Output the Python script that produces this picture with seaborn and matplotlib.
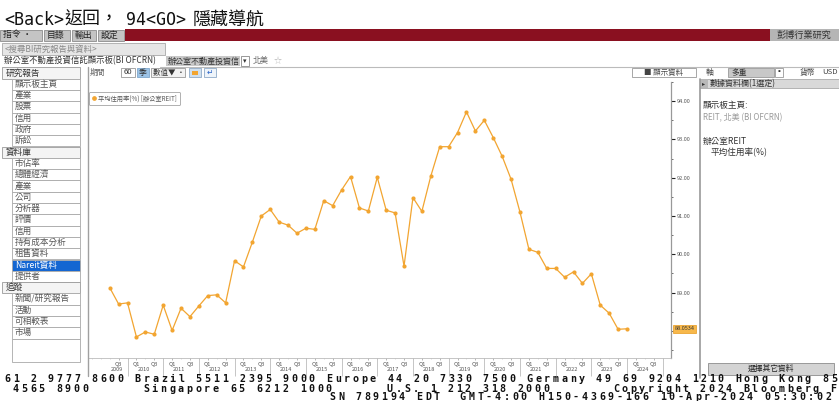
import numpy as np
import pandas as pd
import matplotlib
matplotlib.use("Agg")
import matplotlib.pyplot as plt
import matplotlib.transforms as mtransforms
from matplotlib.patches import Rectangle
from matplotlib.lines import Line2D
from matplotlib.ticker import MultipleLocator
import seaborn as sns

# Nareit office REIT average occupancy (%), quarterly 2009Q2 - 2023Q4
quarters = [str(p) for p in pd.period_range("2009Q2", "2023Q4", freq="Q")]
occupancy = [
    89.13, 88.70, 88.73, 87.84, 87.97, 87.91, 88.67, 88.01, 88.59, 88.37,
    88.65, 88.92, 88.94, 88.73, 89.83, 89.67, 90.32, 91.00, 91.17, 90.84,
    90.76, 90.55, 90.68, 90.65, 91.40, 91.27, 91.68, 92.03, 91.21, 91.13,
    92.01, 91.15, 91.08, 89.69, 91.48, 91.12, 92.04, 92.81, 92.81, 93.18,
    93.72, 93.22, 93.50, 93.05, 92.56, 91.96, 91.10, 90.13, 90.05, 89.63,
    89.63, 89.40, 89.54, 89.24, 89.49, 88.67, 88.46, 88.04, 88.0534,
]
years = list(range(2009, 2025))
y_ticks = [89, 90, 91, 92, 93, 94]
series_label = "平均住用率(%) [辦公室REIT]"

sidebar = [
    ("研究報告", "h"), ("顯示板主頁", "i"), ("產業", "i"), ("股票", "i"), ("信用", "i"),
    ("政府", "i"), ("訴訟", "i"), ("資料庫", "h"), ("市佔率", "i"), ("總體經濟", "i"),
    ("產業", "i"), ("公司", "i"), ("分析器", "i"), ("評價", "i"), ("信用", "i"),
    ("持有成本分析", "i"), ("租售資料", "i"), ("Nareit資料", "s"), ("提供者", "i"),
    ("追蹤", "h"), ("新聞/研究報告", "i"), ("活動", "i"), ("可相較表", "i"), ("市場", "i"),
]

ticker_lines = [
    (3.0, 378.5, "61 2 9777 8600 Brazil 5511 2395 9000 Europe 44 20 7330 7500 Germany 49 69 9204 1210 Hong Kong 852 2977 6000"),
    (11.2, 388.5, "4565 8900      Singapore 65 6212 1000      U.S. 1 212 318 2000       Copyright 2024 Bloomberg Finance L.P."),
    (328.0, 396.8, "SN 789194 EDT  GMT-4:00 H150-4369-166 10-Apr-2024 05:30:02"),
]

ORANGE = "#F2A531"
W, H = 839, 401

sns.set_theme(style="white")
plt.rcParams["font.family"] = ["Noto Sans CJK TC", "DejaVu Sans"]

fig = plt.figure(figsize=(W / 100, H / 100), dpi=100)
fig.patch.set_facecolor("white")


def fx(x):
    return x / W


def fy(y):
    return 1 - y / H


def box(x0, y0, x1, y1, fc, ec="none", lw=0.6):
    fig.add_artist(Rectangle((fx(x0), fy(y1)), (x1 - x0) / W, (y1 - y0) / H,
                             transform=fig.transFigure, fc=fc, ec=ec, lw=lw))


def txt(x, y, s, size=5.8, color="#333333", ha="left", **kw):
    fig.text(fx(x), fy(y), s, fontsize=size, color=color, ha=ha, va="center", **kw)


def hline(x0, x1, y, color="#BBBBBB", lw=0.8):
    fig.add_artist(Line2D([fx(x0), fx(x1)], [fy(y), fy(y)], color=color, lw=lw,
                          transform=fig.transFigure))


def vline(x, y0, y1, color="#A0A0A0", lw=1.0):
    fig.add_artist(Line2D([fx(x), fx(x)], [fy(y0), fy(y1)], color=color, lw=lw,
                          transform=fig.transFigure))


# ---- title and top bars
mono_cjk = ["DejaVu Sans Mono", "Noto Sans CJK TC"]
txt(4, 20, "<Back>", size=12, color="#111111", family=mono_cjk)
txt(64, 20, "返回，", size=13, color="#111111", family=mono_cjk)
txt(126, 20, "94<GO>", size=12, color="#111111", family=mono_cjk)
txt(193, 20, "隱藏導航", size=13, color="#111111", family=mono_cjk)

box(125, 29, 770, 41, fc="#8A1020")
for x0, x1, lab in [(0, 42, "指令 ·"), (44, 70, "目錄"), (72, 96, "輸出"), (98, 124, "設定")]:
    box(x0, 29.5, x1, 40.5, fc="#C4C4C4", ec="#8C8C8C")
    txt(x0 + 3, 35, lab, size=6.4, color="#222222")
box(770, 29, 839, 41, fc="#B5B5B5")
txt(804, 35, "彭博行業研究", size=6.6, color="#333333", ha="center")

box(2, 43, 165, 55, fc="#E6E6E6", ec="#A8A8A8")
txt(5, 49, "<搜尋BI研究報告與資料>", size=6.0, color="#8A8A8A")
txt(4, 61, "辦公室不動產投資信託顯示板(BI OFCRN)", size=6.0, color="#333333")
box(166, 56.5, 240, 65.5, fc="#C8C8C8")
txt(168, 61, "辦公室不動產投資信", size=5.8, color="#333333")
box(241, 56.5, 249, 65.5, fc="white", ec="#888888")
txt(245, 61, "▾", size=5, ha="center")
txt(253, 61, "北美", size=5.8, color="#666666")
txt(274, 61, "☆", size=5.8, color="#BBBBBB")
hline(160, 839, 66.5)

# ---- chart toolbar
txt(90, 72.5, "期間", size=5.6, color="#666666")
box(121, 67.8, 135, 77.2, fc="white", ec="#999999")
txt(128, 72.5, "60", size=5.6, ha="center")
box(137, 67.8, 149, 77.2, fc="#9CC3E6", ec="#7FA7CC")
txt(143, 72.5, "季", size=5.6, ha="center")
box(151, 67.8, 185, 77.2, fc="#F2F2F2", ec="#999999")
txt(153, 72.5, "數值▼ ·", size=5.4)
box(189, 67.8, 201, 77.2, fc="#CFE0F0", ec="#8FAAC8")
box(192, 71, 198, 74.5, fc=ORANGE)
box(204, 67.8, 216, 77.2, fc="#EEF4FA", ec="#8FAAC8")
txt(210, 72.5, "↵", size=5.5, color="#2A64C8", ha="center")
box(632, 67.8, 696, 77.2, fc="white", ec="#999999")
txt(664, 72.5, "■ 顯示資料", size=5.4, color="#444444", ha="center")
txt(706, 72.5, "軸", size=5.6, color="#444444")
box(728, 67.8, 774, 77.2, fc="#C8C8C8", ec="#999999")
txt(731, 72.5, "多重", size=5.6)
box(775, 67.8, 783, 77.2, fc="white", ec="#999999")
txt(779, 72.5, "▪", size=5, ha="center")
txt(800, 72.5, "貨幣", size=5.6, color="#444444")
txt(822, 72.5, "USD", size=5.6, color="#444444")

# ---- left navigation
for k, (lab, kind) in enumerate(sidebar):
    yc = 73 + 11.3 * k
    if kind == "h":
        box(2, yc - 5.6, 80, yc + 5.6, fc="#F4F4F4", ec="#9A9A9A")
        txt(6, yc, lab, size=6.2, color="#333333")
    else:
        fc = "#1466D2" if kind == "s" else "white"
        box(12, yc - 5.6, 80, yc + 5.6, fc=fc, ec="#A8A8A8")
        txt(15, yc, lab, size=6.2, color="white" if kind == "s" else "#555555")
box(12, 338.7, 80, 362, fc="white", ec="#A8A8A8")

# ---- right data panel
vline(700, 79, 378, color="#999999", lw=1.2)
box(700, 79, 839, 88, fc="#D9D9D9", ec="#AAAAAA")
box(700, 79, 708, 88, fc="#B8B8B8")
txt(704, 83.5, "▸", size=4.5, ha="center")
txt(710, 83.5, "數據資料欄(1選定)", size=5.8)
txt(703, 105, "顯示板主頁:", size=6.2)
txt(703, 117.5, "REIT, 北美 (BI OFCRN)", size=5.8, color="#9A9A9A")
txt(703, 141, "辦公室REIT", size=6.2)
txt(711, 152.5, "平均住用率(%)", size=6.2)
box(708, 363, 834, 375, fc="#D4D4D4", ec="#8C8C8C")
txt(771, 369, "選擇其它資料", size=5.6, color="#222222", ha="center")

# ---- chart
vline(88, 66.5, 376)
ax = fig.add_axes([fx(88), fy(358), (671 - 88) / W, (358 - 82) / H])
ax.set_facecolor("white")

df = pd.DataFrame({"pos": np.arange(len(quarters)), "occupancy": occupancy})
sns.lineplot(data=df, x="pos", y="occupancy", ax=ax, color=ORANGE, marker="o",
             markersize=3, markeredgewidth=0, linewidth=0.9, legend=False)


def qpos(year, q):
    return (year - 2009) * 4 + q - 2


ax.set_xlim(-2.43, 62.93)
ax.set_ylim(87.29, 94.50)
ax.set_xlabel("")
ax.set_ylabel("")

xt, xl = [], []
for yr in years:
    for q in (1, 3):
        p = qpos(yr, q)
        if 0 <= p <= 62:
            xt.append(p)
            xl.append(f"Q{q}")
ax.set_xticks(xt)
ax.set_xticklabels(xl)
ax.xaxis.set_minor_locator(MultipleLocator(1))
ax.tick_params(axis="x", which="major", labelsize=4, labelcolor="#555555",
               length=1.5, width=0.5, color="#999999", pad=1.2, bottom=True)
ax.tick_params(axis="x", which="minor", length=1, width=0.4, color="#BBBBBB", bottom=True)

bt = mtransforms.blended_transform_factory(ax.transData, ax.transAxes)
for yr in years:
    ax.text(max(qpos(yr, 1) + 0.8, 0.8), -0.043, str(yr), transform=bt,
            fontsize=4, color="#555555", ha="center", va="center")
    ax.vlines(qpos(yr, 4), -0.066, 0, transform=bt, color="#BBBBBB", lw=0.6, clip_on=False)

ax.yaxis.tick_right()
ax.set_yticks(y_ticks)
ax.set_yticklabels([f"{v:.2f}" for v in y_ticks])
ax.yaxis.set_minor_locator(MultipleLocator(0.5))
ax.tick_params(axis="y", which="major", labelsize=4, labelcolor="#555555", length=3,
               width=0.8, color="#222222", pad=1, right=True, left=False)
ax.tick_params(axis="y", which="minor", length=1.2, width=0.6, color="#555555",
               right=True, left=False)

for side in ("top", "left"):
    ax.spines[side].set_visible(False)
ax.spines["right"].set_color("#999999")
ax.spines["right"].set_linewidth(0.9)
ax.spines["bottom"].set_color("#BBBBBB")
ax.spines["bottom"].set_linewidth(0.6)

yt = mtransforms.blended_transform_factory(ax.transAxes, ax.transData)
last = occupancy[-1]
ax.text(1.006, last, f"{last:.4f}", transform=yt, fontsize=4, color="#333333",
        ha="left", va="center", clip_on=False,
        bbox=dict(boxstyle="square,pad=0.25", fc="#F7B84B", ec="#E89A1C", lw=0.5))

handle = Line2D([], [], ls="", marker="o", ms=2.4, color=ORANGE)
leg = ax.legend(handles=[handle], labels=[series_label], loc="upper left",
                bbox_to_anchor=(0.002, 0.965), borderaxespad=0, fontsize=4.5,
                frameon=True, fancybox=True, edgecolor="#8C8C8C", handletextpad=0.2,
                borderpad=0.45, handlelength=0.8, labelcolor="#555555")
leg.get_frame().set_linewidth(0.6)

# ---- bottom ticker (characters that would run past the right edge are left off)
step = 8.7
for x0, yc, line in ticker_lines:
    for i, ch in enumerate(line):
        xc = x0 + i * step + step / 2
        if ch != " " and xc + 3.5 <= W:
            fig.text(fx(xc), fy(yc), ch, fontsize=7.2, fontweight="bold",
                     family="DejaVu Sans Mono", color="#111111", ha="center", va="center")

fig.savefig("out.png", dpi=100)
